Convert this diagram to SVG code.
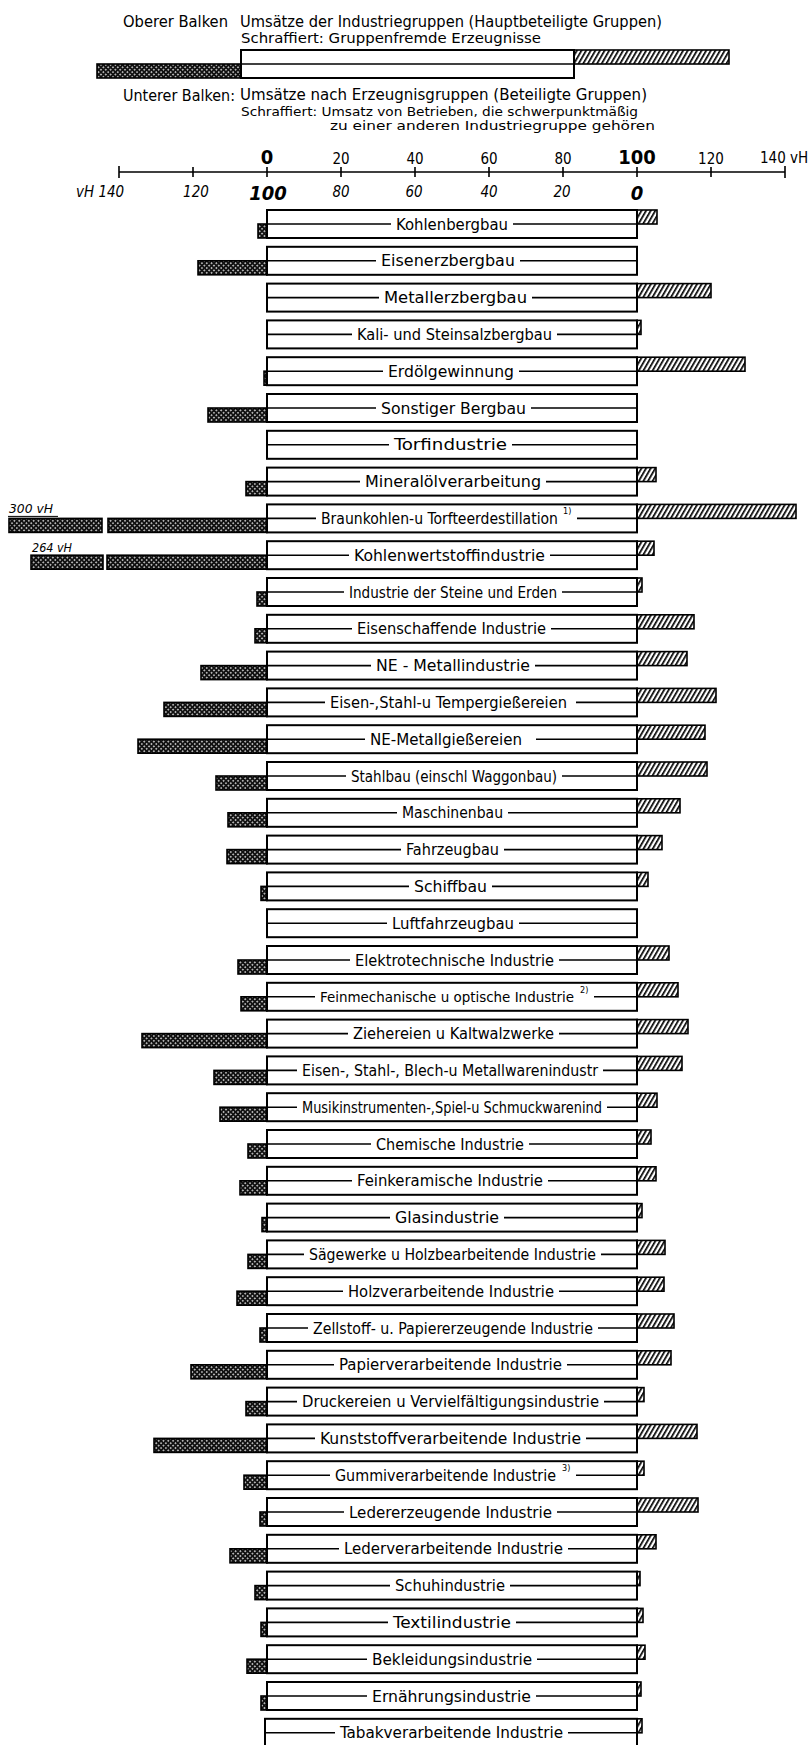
<svg xmlns="http://www.w3.org/2000/svg" width="808" height="1745" viewBox="0 0 808 1745">
<defs>
<style>
.box{fill:#fff;stroke:#000;stroke-width:2}
.hat{fill:url(#hatch);stroke:#000;stroke-width:1.6}
.crs{fill:url(#cross);stroke:#000;stroke-width:1.6}
.mid{stroke:#000;stroke-width:1.6;fill:none}
.ax{stroke:#000;stroke-width:1.6;fill:none}
.t{font-family:"Liberation Sans Narrow","DejaVu Sans Condensed","Liberation Sans",sans-serif;fill:#000}
.lb{font-size:16px}
.sup{font-size:9px}
.hd{font-size:15px}
.hs{font-size:12.5px}
.num{font-size:15px;text-anchor:middle}
.big{font-size:20px;font-weight:bold;text-anchor:middle}
.it{font-style:italic}
</style>
<pattern id="hatch" patternUnits="userSpaceOnUse" width="4" height="4" patternTransform="rotate(30)"><rect width="4" height="4" fill="#fff"/><rect width="1.7" height="4" fill="#000"/></pattern>
<pattern id="cross" patternUnits="userSpaceOnUse" width="3.4" height="3.4" patternTransform="rotate(45)"><rect width="3.4" height="3.4" fill="#111"/><rect x="1" y="1" width="1.4" height="1.4" fill="#fff"/></pattern>
</defs>
<rect width="808" height="1745" fill="#fff"/>

<g id="legend">
<text class="t hd" x="123" y="27" textLength="105" lengthAdjust="spacingAndGlyphs">Oberer Balken</text>
<text class="t hd" x="240" y="27" textLength="422" lengthAdjust="spacingAndGlyphs">Umsätze der Industriegruppen (Hauptbeteiligte Gruppen)</text>
<text class="t hd" x="241" y="43" textLength="300" lengthAdjust="spacingAndGlyphs" style="font-size:14px">Schraffiert: Gruppenfremde Erzeugnisse</text>
<rect class="hat" x="574" y="50" width="155" height="14"/>
<rect class="crs" x="97" y="64" width="144" height="14"/>
<rect class="box" x="241" y="50" width="333" height="28"/>
<path class="mid" d="M241 64H574"/>
<text class="t hd" x="123" y="101" textLength="112" lengthAdjust="spacingAndGlyphs">Unterer Balken:</text>
<text class="t hd" x="240" y="100" textLength="407" lengthAdjust="spacingAndGlyphs">Umsätze nach Erzeugnisgruppen (Beteiligte Gruppen)</text>
<text class="t hs" x="241" y="116" textLength="397" lengthAdjust="spacingAndGlyphs">Schraffiert: Umsatz von Betrieben, die schwerpunktmäßig</text>
<text class="t hs" x="330" y="130" textLength="325" lengthAdjust="spacingAndGlyphs">zu einer anderen Industriegruppe gehören</text>
</g>

<g id="axis">
<path class="ax" d="M119 172H785M119 166V178M193 167V177M267 167V177M341 167V177M415 167V177M489 167V177M563 167V177M637 167V177M711 167V177M785 166V178"/>
<text class="t big" x="267" y="164">0</text>
<text class="t num" x="341" y="164">20</text>
<text class="t num" x="415" y="164">40</text>
<text class="t num" x="489" y="164">60</text>
<text class="t num" x="563" y="164">80</text>
<text class="t big" x="637" y="164">100</text>
<text class="t num" x="711" y="164">120</text>
<text class="t hd" x="760" y="163">140 vH</text>
<text class="t hd it" x="76" y="197">vH 140</text>
<text class="t num it" x="196" y="197">120</text>
<text class="t big it" x="268" y="200">100</text>
<text class="t num it" x="341" y="197">80</text>
<text class="t num it" x="414" y="197">60</text>
<text class="t num it" x="489" y="197">40</text>
<text class="t num it" x="562" y="197">20</text>
<text class="t big it" x="637" y="200">0</text>
</g>

<g id="r01" transform="translate(0,224)"><rect class="hat" x="637" y="-14" width="20" height="14"/><rect class="crs" x="258" y="0" width="9" height="14"/><rect class="box" x="267" y="-14" width="370" height="28"/><path class="mid" d="M267 0H391M513 0H637"/><text class="t lb" x="396" y="5.5" textLength="112" lengthAdjust="spacingAndGlyphs">Kohlenbergbau</text></g>
<g id="r02" transform="translate(0,260.8)"><rect class="crs" x="198" y="0" width="69" height="14"/><rect class="box" x="267" y="-14" width="370" height="28"/><path class="mid" d="M267 0H376M520 0H637"/><text class="t lb" x="381" y="5.5" textLength="134" lengthAdjust="spacingAndGlyphs">Eisenerzbergbau</text></g>
<g id="r03" transform="translate(0,297.6)"><rect class="hat" x="637" y="-14" width="74" height="14"/><rect class="box" x="267" y="-14" width="370" height="28"/><path class="mid" d="M267 0H379M532 0H637"/><text class="t lb" x="384" y="5.5" textLength="143" lengthAdjust="spacingAndGlyphs">Metallerzbergbau</text></g>
<g id="r04" transform="translate(0,334.4)"><rect class="hat" x="637" y="-14" width="4" height="14"/><rect class="box" x="267" y="-14" width="370" height="28"/><path class="mid" d="M267 0H352M557 0H637"/><text class="t lb" x="357" y="5.5" textLength="195" lengthAdjust="spacingAndGlyphs">Kali- und Steinsalzbergbau</text></g>
<g id="r05" transform="translate(0,371.2)"><rect class="hat" x="637" y="-14" width="108" height="14"/><rect class="crs" x="264" y="0" width="3" height="14"/><rect class="box" x="267" y="-14" width="370" height="28"/><path class="mid" d="M267 0H383M519 0H637"/><text class="t lb" x="388" y="5.5" textLength="126" lengthAdjust="spacingAndGlyphs">Erdölgewinnung</text></g>
<g id="r06" transform="translate(0,408)"><rect class="crs" x="208" y="0" width="59" height="14"/><rect class="box" x="267" y="-14" width="370" height="28"/><path class="mid" d="M267 0H376M531 0H637"/><text class="t lb" x="381" y="5.5" textLength="145" lengthAdjust="spacingAndGlyphs">Sonstiger Bergbau</text></g>
<g id="r07" transform="translate(0,444.8)"><rect class="box" x="267" y="-14" width="370" height="28"/><path class="mid" d="M267 0H389M512 0H637"/><text class="t lb" x="394" y="5.5" textLength="113" lengthAdjust="spacingAndGlyphs">Torfindustrie</text></g>
<g id="r08" transform="translate(0,481.6)"><rect class="hat" x="637" y="-14" width="19" height="14"/><rect class="crs" x="246" y="0" width="21" height="14"/><rect class="box" x="267" y="-14" width="370" height="28"/><path class="mid" d="M267 0H360M546 0H637"/><text class="t lb" x="365" y="5.5" textLength="176" lengthAdjust="spacingAndGlyphs">Mineralölverarbeitung</text></g>
<g id="r09" transform="translate(0,518.4)"><rect class="hat" x="637" y="-14" width="159" height="14"/><rect class="crs" x="9" y="0" width="93" height="14"/><rect class="crs" x="108" y="0" width="159" height="14"/><text class="t hd it" x="9" y="-5" textLength="44" lengthAdjust="spacingAndGlyphs" style="font-size:12px">300 vH</text><path class="mid" d="M8 -2H58" style="stroke-width:1"/><rect class="box" x="267" y="-14" width="370" height="28"/><path class="mid" d="M267 0H316M577 0H637"/><text class="t lb" x="321" y="5.5" textLength="237" lengthAdjust="spacingAndGlyphs" style="font-size:15px">Braunkohlen-u Torfteerdestillation</text><text class="t sup" x="563" y="-4">1)</text></g>
<g id="r10" transform="translate(0,555.2)"><rect class="hat" x="637" y="-14" width="17" height="14"/><rect class="crs" x="31" y="0" width="72" height="14"/><rect class="crs" x="107" y="0" width="160" height="14"/><text class="t hd it" x="32" y="-3" textLength="40" lengthAdjust="spacingAndGlyphs" style="font-size:12px">264 vH</text><rect class="box" x="267" y="-14" width="370" height="28"/><path class="mid" d="M267 0H349M550 0H637"/><text class="t lb" x="354" y="5.5" textLength="191" lengthAdjust="spacingAndGlyphs">Kohlenwertstoffindustrie</text></g>
<g id="r11" transform="translate(0,592)"><rect class="hat" x="637" y="-14" width="5" height="14"/><rect class="crs" x="257" y="0" width="10" height="14"/><rect class="box" x="267" y="-14" width="370" height="28"/><path class="mid" d="M267 0H344M562 0H637"/><text class="t lb" x="349" y="5.5" textLength="208" lengthAdjust="spacingAndGlyphs">Industrie der Steine und Erden</text></g>
<g id="r12" transform="translate(0,628.8)"><rect class="hat" x="637" y="-14" width="57" height="14"/><rect class="crs" x="255" y="0" width="12" height="14"/><rect class="box" x="267" y="-14" width="370" height="28"/><path class="mid" d="M267 0H352M551 0H637"/><text class="t lb" x="357" y="5.5" textLength="189" lengthAdjust="spacingAndGlyphs">Eisenschaffende Industrie</text></g>
<g id="r13" transform="translate(0,665.6)"><rect class="hat" x="637" y="-14" width="50" height="14"/><rect class="crs" x="201" y="0" width="66" height="14"/><rect class="box" x="267" y="-14" width="370" height="28"/><path class="mid" d="M267 0H371M535 0H637"/><text class="t lb" x="376" y="5.5" textLength="154" lengthAdjust="spacingAndGlyphs">NE - Metallindustrie</text></g>
<g id="r14" transform="translate(0,702.4)"><rect class="hat" x="637" y="-14" width="79" height="14"/><rect class="crs" x="164" y="0" width="103" height="14"/><rect class="box" x="267" y="-14" width="370" height="28"/><path class="mid" d="M267 0H325M576 0H637"/><text class="t lb" x="330" y="5.5" textLength="237" lengthAdjust="spacingAndGlyphs">Eisen-,Stahl-u Tempergießereien</text></g>
<g id="r15" transform="translate(0,739.2)"><rect class="hat" x="637" y="-14" width="68" height="14"/><rect class="crs" x="138" y="0" width="129" height="14"/><rect class="box" x="267" y="-14" width="370" height="28"/><path class="mid" d="M267 0H365M536 0H637"/><text class="t lb" x="370" y="5.5" textLength="152" lengthAdjust="spacingAndGlyphs">NE-Metallgießereien</text></g>
<g id="r16" transform="translate(0,776)"><rect class="hat" x="637" y="-14" width="70" height="14"/><rect class="crs" x="216" y="0" width="51" height="14"/><rect class="box" x="267" y="-14" width="370" height="28"/><path class="mid" d="M267 0H346M562 0H637"/><text class="t lb" x="351" y="5.5" textLength="206" lengthAdjust="spacingAndGlyphs">Stahlbau (einschl Waggonbau)</text></g>
<g id="r17" transform="translate(0,812.8)"><rect class="hat" x="637" y="-14" width="43" height="14"/><rect class="crs" x="228" y="0" width="39" height="14"/><rect class="box" x="267" y="-14" width="370" height="28"/><path class="mid" d="M267 0H397M508 0H637"/><text class="t lb" x="402" y="5.5" textLength="101" lengthAdjust="spacingAndGlyphs">Maschinenbau</text></g>
<g id="r18" transform="translate(0,849.6)"><rect class="hat" x="637" y="-14" width="25" height="14"/><rect class="crs" x="227" y="0" width="40" height="14"/><rect class="box" x="267" y="-14" width="370" height="28"/><path class="mid" d="M267 0H401M504 0H637"/><text class="t lb" x="406" y="5.5" textLength="93" lengthAdjust="spacingAndGlyphs">Fahrzeugbau</text></g>
<g id="r19" transform="translate(0,886.4)"><rect class="hat" x="637" y="-14" width="11" height="14"/><rect class="crs" x="261" y="0" width="6" height="14"/><rect class="box" x="267" y="-14" width="370" height="28"/><path class="mid" d="M267 0H409M492 0H637"/><text class="t lb" x="414" y="5.5" textLength="73" lengthAdjust="spacingAndGlyphs">Schiffbau</text></g>
<g id="r20" transform="translate(0,923.2)"><rect class="box" x="267" y="-14" width="370" height="28"/><path class="mid" d="M267 0H387M519 0H637"/><text class="t lb" x="392" y="5.5" textLength="122" lengthAdjust="spacingAndGlyphs">Luftfahrzeugbau</text></g>
<g id="r21" transform="translate(0,960)"><rect class="hat" x="637" y="-14" width="32" height="14"/><rect class="crs" x="238" y="0" width="29" height="14"/><rect class="box" x="267" y="-14" width="370" height="28"/><path class="mid" d="M267 0H350M559 0H637"/><text class="t lb" x="355" y="5.5" textLength="199" lengthAdjust="spacingAndGlyphs">Elektrotechnische Industrie</text></g>
<g id="r22" transform="translate(0,996.8)"><rect class="hat" x="637" y="-14" width="41" height="14"/><rect class="crs" x="241" y="0" width="26" height="14"/><rect class="box" x="267" y="-14" width="370" height="28"/><path class="mid" d="M267 0H315M594 0H637"/><text class="t lb" x="320" y="5.5" textLength="254" lengthAdjust="spacingAndGlyphs" style="font-size:14px">Feinmechanische u optische Industrie</text><text class="t sup" x="580" y="-4">2)</text></g>
<g id="r23" transform="translate(0,1033.6)"><rect class="hat" x="637" y="-14" width="51" height="14"/><rect class="crs" x="142" y="0" width="125" height="14"/><rect class="box" x="267" y="-14" width="370" height="28"/><path class="mid" d="M267 0H348M559 0H637"/><text class="t lb" x="353" y="5.5" textLength="201" lengthAdjust="spacingAndGlyphs">Ziehereien u Kaltwalzwerke</text></g>
<g id="r24" transform="translate(0,1070.4)"><rect class="hat" x="637" y="-14" width="45" height="14"/><rect class="crs" x="214" y="0" width="53" height="14"/><rect class="box" x="267" y="-14" width="370" height="28"/><path class="mid" d="M267 0H297M603 0H637"/><text class="t lb" x="302" y="5.5" textLength="296" lengthAdjust="spacingAndGlyphs">Eisen-, Stahl-, Blech-u Metallwarenindustr</text></g>
<g id="r25" transform="translate(0,1107.2)"><rect class="hat" x="637" y="-14" width="20" height="14"/><rect class="crs" x="220" y="0" width="47" height="14"/><rect class="box" x="267" y="-14" width="370" height="28"/><path class="mid" d="M267 0H297M607 0H637"/><text class="t lb" x="302" y="5.5" textLength="300" lengthAdjust="spacingAndGlyphs">Musikinstrumenten-,Spiel-u Schmuckwarenind</text></g>
<g id="r26" transform="translate(0,1144)"><rect class="hat" x="637" y="-14" width="14" height="14"/><rect class="crs" x="248" y="0" width="19" height="14"/><rect class="box" x="267" y="-14" width="370" height="28"/><path class="mid" d="M267 0H371M529 0H637"/><text class="t lb" x="376" y="5.5" textLength="148" lengthAdjust="spacingAndGlyphs">Chemische Industrie</text></g>
<g id="r27" transform="translate(0,1180.8)"><rect class="hat" x="637" y="-14" width="19" height="14"/><rect class="crs" x="240" y="0" width="27" height="14"/><rect class="box" x="267" y="-14" width="370" height="28"/><path class="mid" d="M267 0H352M548 0H637"/><text class="t lb" x="357" y="5.5" textLength="186" lengthAdjust="spacingAndGlyphs">Feinkeramische Industrie</text></g>
<g id="r28" transform="translate(0,1217.6)"><rect class="hat" x="637" y="-14" width="5" height="14"/><rect class="crs" x="262" y="0" width="5" height="14"/><rect class="box" x="267" y="-14" width="370" height="28"/><path class="mid" d="M267 0H390M504 0H637"/><text class="t lb" x="395" y="5.5" textLength="104" lengthAdjust="spacingAndGlyphs">Glasindustrie</text></g>
<g id="r29" transform="translate(0,1254.4)"><rect class="hat" x="637" y="-14" width="28" height="14"/><rect class="crs" x="248" y="0" width="19" height="14"/><rect class="box" x="267" y="-14" width="370" height="28"/><path class="mid" d="M267 0H304M601 0H637"/><text class="t lb" x="309" y="5.5" textLength="287" lengthAdjust="spacingAndGlyphs">Sägewerke u Holzbearbeitende Industrie</text></g>
<g id="r30" transform="translate(0,1291.2)"><rect class="hat" x="637" y="-14" width="27" height="14"/><rect class="crs" x="237" y="0" width="30" height="14"/><rect class="box" x="267" y="-14" width="370" height="28"/><path class="mid" d="M267 0H343M559 0H637"/><text class="t lb" x="348" y="5.5" textLength="206" lengthAdjust="spacingAndGlyphs">Holzverarbeitende Industrie</text></g>
<g id="r31" transform="translate(0,1328)"><rect class="hat" x="637" y="-14" width="37" height="14"/><rect class="crs" x="260" y="0" width="7" height="14"/><rect class="box" x="267" y="-14" width="370" height="28"/><path class="mid" d="M267 0H308M598 0H637"/><text class="t lb" x="313" y="5.5" textLength="280" lengthAdjust="spacingAndGlyphs">Zellstoff- u. Papiererzeugende Industrie</text></g>
<g id="r32" transform="translate(0,1364.8)"><rect class="hat" x="637" y="-14" width="34" height="14"/><rect class="crs" x="191" y="0" width="76" height="14"/><rect class="box" x="267" y="-14" width="370" height="28"/><path class="mid" d="M267 0H334M567 0H637"/><text class="t lb" x="339" y="5.5" textLength="223" lengthAdjust="spacingAndGlyphs">Papierverarbeitende Industrie</text></g>
<g id="r33" transform="translate(0,1401.6)"><rect class="hat" x="637" y="-14" width="7" height="14"/><rect class="crs" x="246" y="0" width="21" height="14"/><rect class="box" x="267" y="-14" width="370" height="28"/><path class="mid" d="M267 0H297M604 0H637"/><text class="t lb" x="302" y="5.5" textLength="297" lengthAdjust="spacingAndGlyphs">Druckereien u Vervielfältigungsindustrie</text></g>
<g id="r34" transform="translate(0,1438.4)"><rect class="hat" x="637" y="-14" width="60" height="14"/><rect class="crs" x="154" y="0" width="113" height="14"/><rect class="box" x="267" y="-14" width="370" height="28"/><path class="mid" d="M267 0H315M586 0H637"/><text class="t lb" x="320" y="5.5" textLength="261" lengthAdjust="spacingAndGlyphs">Kunststoffverarbeitende Industrie</text></g>
<g id="r35" transform="translate(0,1475.2)"><rect class="hat" x="637" y="-14" width="7" height="14"/><rect class="crs" x="244" y="0" width="23" height="14"/><rect class="box" x="267" y="-14" width="370" height="28"/><path class="mid" d="M267 0H330M576 0H637"/><text class="t lb" x="335" y="5.5" textLength="221" lengthAdjust="spacingAndGlyphs" style="font-size:15px">Gummiverarbeitende Industrie</text><text class="t sup" x="562" y="-4">3)</text></g>
<g id="r36" transform="translate(0,1512)"><rect class="hat" x="637" y="-14" width="61" height="14"/><rect class="crs" x="260" y="0" width="7" height="14"/><rect class="box" x="267" y="-14" width="370" height="28"/><path class="mid" d="M267 0H344M557 0H637"/><text class="t lb" x="349" y="5.5" textLength="203" lengthAdjust="spacingAndGlyphs">Ledererzeugende Industrie</text></g>
<g id="r37" transform="translate(0,1548.8)"><rect class="hat" x="637" y="-14" width="19" height="14"/><rect class="crs" x="230" y="0" width="37" height="14"/><rect class="box" x="267" y="-14" width="370" height="28"/><path class="mid" d="M267 0H339M568 0H637"/><text class="t lb" x="344" y="5.5" textLength="219" lengthAdjust="spacingAndGlyphs">Lederverarbeitende Industrie</text></g>
<g id="r38" transform="translate(0,1585.6)"><rect class="hat" x="637" y="-14" width="3" height="14"/><rect class="crs" x="255" y="0" width="12" height="14"/><rect class="box" x="267" y="-14" width="370" height="28"/><path class="mid" d="M267 0H390M510 0H637"/><text class="t lb" x="395" y="5.5" textLength="110" lengthAdjust="spacingAndGlyphs">Schuhindustrie</text></g>
<g id="r39" transform="translate(0,1622.4)"><rect class="hat" x="637" y="-14" width="6" height="14"/><rect class="crs" x="261" y="0" width="6" height="14"/><rect class="box" x="267" y="-14" width="370" height="28"/><path class="mid" d="M267 0H388M516 0H637"/><text class="t lb" x="393" y="5.5" textLength="118" lengthAdjust="spacingAndGlyphs">Textilindustrie</text></g>
<g id="r40" transform="translate(0,1659.2)"><rect class="hat" x="637" y="-14" width="8" height="14"/><rect class="crs" x="247" y="0" width="20" height="14"/><rect class="box" x="267" y="-14" width="370" height="28"/><path class="mid" d="M267 0H367M537 0H637"/><text class="t lb" x="372" y="5.5" textLength="160" lengthAdjust="spacingAndGlyphs">Bekleidungsindustrie</text></g>
<g id="r41" transform="translate(0,1696)"><rect class="hat" x="637" y="-14" width="4" height="14"/><rect class="crs" x="261" y="0" width="6" height="14"/><rect class="box" x="267" y="-14" width="370" height="28"/><path class="mid" d="M267 0H367M536 0H637"/><text class="t lb" x="372" y="5.5" textLength="159" lengthAdjust="spacingAndGlyphs">Ernährungsindustrie</text></g>
<g id="r42" transform="translate(0,1732.8)"><rect class="hat" x="637" y="-14" width="5" height="14"/><rect class="box" x="265" y="-14" width="372" height="28"/><path class="mid" d="M265 0H335M568 0H637"/><text class="t lb" x="340" y="5.5" textLength="223" lengthAdjust="spacingAndGlyphs">Tabakverarbeitende Industrie</text></g>
</svg>
